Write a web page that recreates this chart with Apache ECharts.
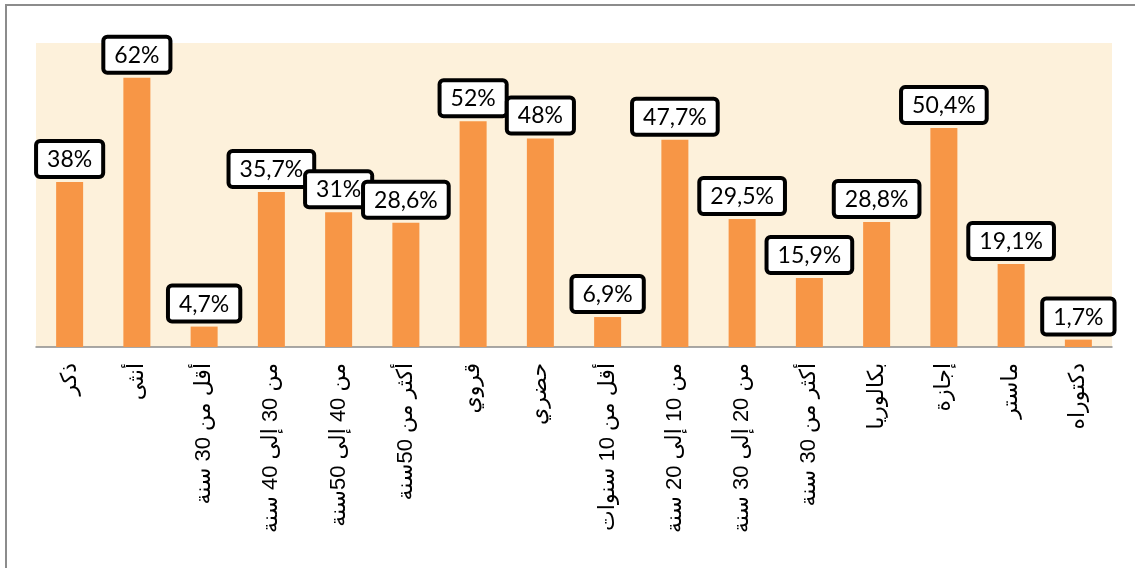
<!DOCTYPE html>
<html>
<head>
<meta charset="utf-8">
<script src="https://cdn.jsdelivr.net/npm/echarts@6/dist/echarts.min.js"></script>
<style>
  html, body { margin: 0; padding: 0; background: #fff; }
  #main { width: 1135px; height: 568px; }
</style>
</head>
<body>
<div id="main"></div>
<script>
// categories (right-to-left reading labels, shown left to right as in the source)
var categories = [
    'ذكر', 'أنثى', 'أقل من 30 سنة', 'من 30 إلى 40 سنة', 'من 40 إلى 50سنة',
    'أكثر من 50سنة', 'قروي', 'حضري', 'أقل من 10 سنوات', 'من 10 إلى 20 سنة',
    'من 20 إلى 30 سنة', 'أكثر من 30 سنة', 'بكالوريا', 'إجازة', 'ماستر', 'دكتوراه'
];
var values = [38, 62, 4.7, 35.7, 31, 28.6, 52, 48, 6.9, 47.7, 29.5, 15.9, 28.8, 50.4, 19.1, 1.7];

var chart = echarts.init(document.getElementById('main'));

var option = {
    animation: false,
    grid: {
        left: 36,
        right: 23,
        top: 43,
        bottom: 221,
        show: true,
        backgroundColor: '#fdf1db',
        borderWidth: 0
    },
    graphic: [{
        type: 'rect',
        shape: { x: 6, y: 5, width: 1200, height: 700 },
        style: { fill: null, stroke: '#8c8c8c', lineWidth: 2 },
        silent: true
    }],
    xAxis: {
        type: 'category',
        data: categories,
        axisLine: { lineStyle: { color: '#8c8c8c', width: 1.5 } },
        axisTick: { length: 7, lineStyle: { color: '#8c8c8c', width: 1.5 } },
        axisLabel: {
            interval: 0,
            rotate: 90,
            margin: 16,
            color: '#000',
            fontSize: 22,
            fontFamily: 'Liberation Sans, DejaVu Sans, sans-serif'
        }
    },
    yAxis: {
        type: 'value',
        min: 0,
        max: 70,
        show: false,
        splitLine: { show: false }
    },
    series: [{
        type: 'bar',
        data: values,
        barWidth: 27,
        itemStyle: { color: '#f79646' },
        label: {
            show: true,
            position: 'top',
            distance: 7,
            formatter: function (p) {
                return String(p.value).replace('.', ',') + '%';
            },
            color: '#000',
            fontSize: 23,
            fontFamily: 'Lato, Liberation Sans, sans-serif',
            backgroundColor: '#fff',
            borderColor: '#000',
            borderWidth: 4,
            borderRadius: 2,
            padding: [5, 9, 4, 9]
        }
    }]
};

chart.setOption(option);
</script>
</body>
</html>
